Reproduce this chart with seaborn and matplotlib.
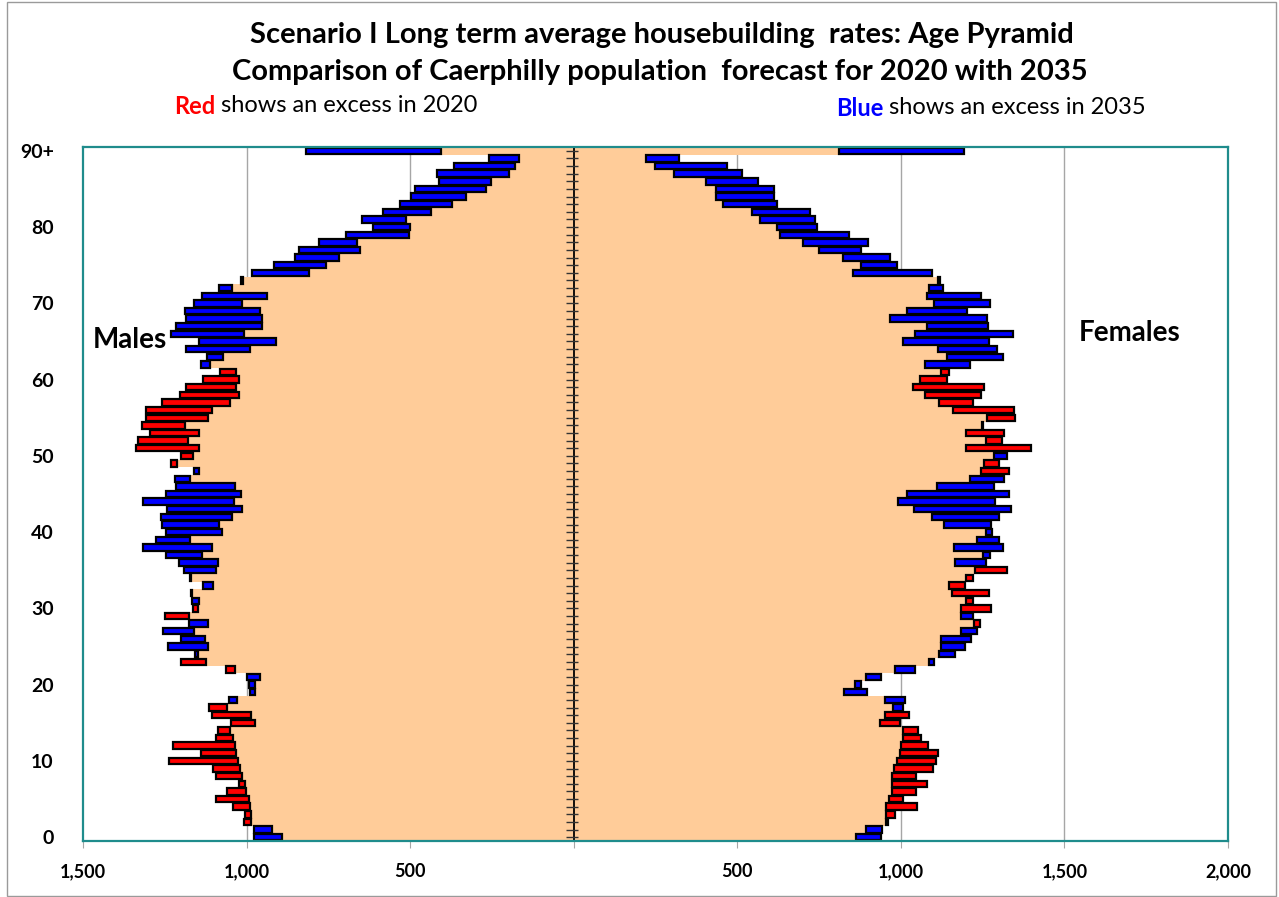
import numpy as np
import pandas as pd
import matplotlib.pyplot as plt
import seaborn as sns
from matplotlib.patches import Rectangle

# Population by single year of age (0 .. 90+)
ages = list(range(91))

male_2020 = [891, 921, 1008, 1005, 1043, 1092, 1061, 1023, 1092, 1102,
             1237, 1138, 1224, 1092, 1087, 1049, 1107, 1114, 1028, 975,
             973, 959, 1064, 1201, 1148, 1117, 1127, 1161, 1117, 1250,
             1163, 1145, 1166, 1102, 1170, 1092, 1087, 1136, 1105, 1173,
             1074, 1084, 1046, 1015, 1039, 1018, 1036, 1173, 1146, 1232,
             1201, 1338, 1333, 1296, 1321, 1306, 1306, 1260, 1204, 1186,
             1133, 1082, 1112, 1072, 988, 911, 1008, 954, 954, 959,
             1014, 937, 1046, 1010, 809, 756, 718, 652, 661, 503,
             501, 514, 437, 371, 328, 267, 254, 198, 180, 167,
             407]
male_2035 = [977, 977, 985, 985, 988, 992, 1002, 1005, 1015, 1021,
             1025, 1031, 1036, 1041, 1051, 973, 985, 1059, 1053, 990,
             993, 998, 1034, 1124, 1158, 1240, 1201, 1255, 1176, 1176,
             1148, 1168, 1170, 1133, 1174, 1192, 1207, 1247, 1318, 1277,
             1247, 1260, 1263, 1243, 1318, 1245, 1216, 1219, 1161, 1214,
             1163, 1146, 1178, 1146, 1189, 1117, 1107, 1051, 1023, 1031,
             1023, 1031, 1138, 1122, 1186, 1146, 1232, 1216, 1186, 1189,
             1162, 1137, 1084, 1016, 983, 916, 852, 841, 778, 695,
             613, 646, 583, 532, 498, 484, 413, 418, 367, 260,
             817]
female_2020 = [863, 894, 960, 981, 1049, 1006, 1045, 1081, 1047, 1099,
               1106, 1115, 1083, 1062, 1051, 996, 1026, 977, 953, 827,
               859, 894, 983, 1086, 1117, 1122, 1122, 1183, 1241, 1183,
               1276, 1221, 1269, 1195, 1222, 1323, 1167, 1250, 1163, 1233,
               1260, 1131, 1096, 1041, 991, 1019, 1109, 1212, 1331, 1301,
               1285, 1397, 1310, 1314, 1252, 1350, 1346, 1222, 1244, 1253,
               1141, 1147, 1073, 1141, 1115, 1006, 1042, 1081, 968, 1019,
               1100, 1081, 1086, 1115, 855, 878, 824, 750, 701, 631,
               622, 568, 545, 455, 436, 436, 404, 308, 247, 222,
               812]
female_2035 = [940, 941, 955, 955, 955, 964, 972, 972, 972, 978,
               987, 996, 1000, 1006, 1006, 936, 953, 1006, 1013, 897,
               878, 940, 1042, 1100, 1164, 1196, 1215, 1233, 1224, 1222,
               1183, 1199, 1155, 1147, 1199, 1228, 1260, 1272, 1312, 1299,
               1278, 1276, 1301, 1337, 1288, 1331, 1285, 1314, 1246, 1254,
               1323, 1199, 1260, 1199, 1248, 1263, 1158, 1117, 1073, 1038,
               1058, 1124, 1212, 1312, 1295, 1269, 1344, 1267, 1263, 1203,
               1272, 1246, 1128, 1120, 1096, 987, 968, 878, 899, 842,
               745, 737, 722, 622, 613, 613, 562, 513, 468, 321,
               1192]

x_ticks = [-1500, -1000, -500, 0, 500, 1000, 1500, 2000]
x_labels = ['1,500', '1,000', '500', '', '500', '1,000', '1,500', '2,000']
y_ticks = [0, 10, 20, 30, 40, 50, 60, 70, 80, 90]
y_labels = ['0', '10', '20', '30', '40', '50', '60', '70', '80', '90+']

PEACH = '#FFCC99'
FRAME = '#1F8C8C'

df = pd.DataFrame({'age': ages, 'm20': male_2020, 'm35': male_2035,
                   'f20': female_2020, 'f35': female_2035})
df['m_lo'] = df[['m20', 'm35']].min(axis=1)
df['m_hi'] = df[['m20', 'm35']].max(axis=1)
df['f_lo'] = df[['f20', 'f35']].min(axis=1)
df['f_hi'] = df[['f20', 'f35']].max(axis=1)
df['m_col'] = np.where(df['m20'] > df['m35'], 'red', 'blue')
df['f_col'] = np.where(df['f20'] > df['f35'], 'red', 'blue')

sns.set_style('white')
plt.rcParams['font.family'] = ['Lato', 'DejaVu Sans']
plt.rcParams['text.color'] = 'black'
plt.rcParams['xtick.labelcolor'] = 'black'
plt.rcParams['ytick.labelcolor'] = 'black'

fig = plt.figure(figsize=(12.79, 8.97), dpi=100)
W, H = 1279, 897
ax = fig.add_axes([83 / W, 1 - 841 / H, (1228 - 83) / W, (841 - 147) / H])

# common part of both years (peach area)
sns.barplot(x=-df['m_lo'], y=df['age'], orient='h', native_scale=True,
            width=1, color=PEACH, saturation=1, linewidth=0,
            errorbar=None, ax=ax, zorder=1)
sns.barplot(x=df['f_lo'], y=df['age'], orient='h', native_scale=True,
            width=1, color=PEACH, saturation=1, linewidth=0,
            errorbar=None, ax=ax, zorder=1)

# excess bars
ax.barh(df['age'], -(df['m_hi'] - df['m_lo']), left=-df['m_lo'], height=0.84,
        color=df['m_col'], edgecolor='black', linewidth=1.6, zorder=3)
ax.barh(df['age'], df['f_hi'] - df['f_lo'], left=df['f_lo'], height=0.84,
        color=df['f_col'], edgecolor='black', linewidth=1.6, zorder=3)

# gridlines behind everything
for gx in [-1000, -500, 500, 1000, 1500]:
    ax.axvline(gx, color='#A6A6A6', lw=1, zorder=0)

# central axis with a tick for each age
ax.axvline(0, color='black', lw=1.3, zorder=4)
ax.hlines(ages, -25, 12, color='#333333', lw=1, zorder=4)

ax.set_xlim(-1500, 2000)
ax.set_ylim(-0.5, 90.5)
ax.set_xticks(x_ticks)
ax.set_xticklabels(x_labels, fontsize=13, fontweight='bold')
ax.set_yticks(y_ticks)
ax.set_yticklabels(y_labels, fontsize=14, fontweight='bold')
ax.tick_params(axis='x', length=5, color='#A6A6A6', pad=11, direction='out', bottom=True)
ax.tick_params(axis='y', length=0, pad=21)
ax.set_xlabel('')
ax.set_ylabel('')
for s in ax.spines.values():
    s.set_color(FRAME)
    s.set_linewidth(1.6)
    s.set_zorder(5)

fig.text(93 / W, 1 - 340 / H, 'Males', fontsize=20, fontweight='bold', va='center', ha='left')
fig.text(1079 / W, 1 - 333 / H, 'Females', fontsize=20, fontweight='bold', va='center', ha='left')

fig.text(662 / W, 1 - 35 / H, 'Scenario I Long term average housebuilding  rates: Age Pyramid',
         fontsize=21, fontweight='bold', ha='center', va='center')
fig.text(660 / W, 1 - 72 / H, 'Comparison of Caerphilly population  forecast for 2020 with 2035',
         fontsize=21, fontweight='bold', ha='center', va='center')

fig.text(174 / W, 1 - 106 / H, 'Red', color='red', fontsize=17, fontweight='bold', va='center')
fig.text(221 / W, 1 - 106 / H, 'shows an excess in 2020', fontsize=17, va='center')
fig.text(836 / W, 1 - 108 / H, 'Blue', color='blue', fontsize=17, fontweight='bold', va='center')
fig.text(889 / W, 1 - 108 / H, 'shows an excess in 2035', fontsize=17, va='center')

fig.patches.append(Rectangle((7 / W, 1 / H), 1 - 10 / W, 1 - 3 / H, transform=fig.transFigure,
                             fill=False, edgecolor='#9A9A9A', lw=1))

fig.savefig('out.png', dpi=100)
